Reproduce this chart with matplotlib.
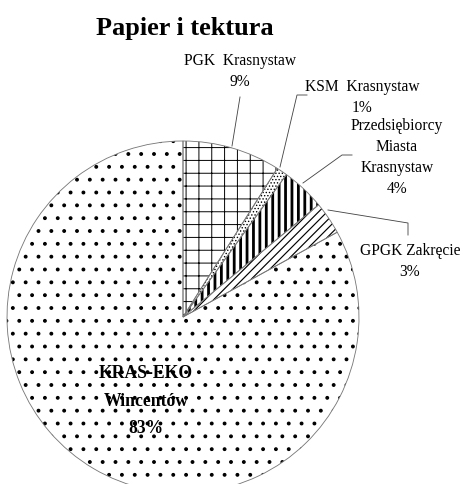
import matplotlib
matplotlib.use("Agg")
import matplotlib.pyplot as plt

# ---- data ----
categories = ["PGK  Krasnystaw", "KSM  Krasnystaw", "Przedsiębiorcy\nMiasta\nKrasnystaw",
              "GPGK Zakręcie", "KRAS-EKO\nWincentów"]
values = [9, 1, 4, 3, 83]
pct_labels = ["9%", "1%", "4%", "3%", "83%"]
title = "Papier i tektura"

# ---- styling ----
W, H, DPI = 463, 484, 77
hatches = ["+", "....", "||", "///", "."]
plt.rcParams["font.family"] = ["Liberation Serif", "DejaVu Serif"]
plt.rcParams["hatch.linewidth"] = 0.9

fig = plt.figure(figsize=(W / DPI, H / DPI), dpi=DPI)
ax = fig.add_axes([0, 0, 1, 1])

def P(x, y):
    return (x, H - y)

cx, cy = P(183, 317)
R = 176

wedges, _ = ax.pie(values, startangle=90, counterclock=False, center=(cx, cy), radius=R,
                   hatch=hatches, colors=["white"] * len(values),
                   wedgeprops=dict(edgecolor="black", linewidth=0))
lw_map = [0.9, 0.8, 2.6, 1.1, 1.2]
for w, lw in zip(wedges, lw_map):
    try:
        w.set_hatch_linewidth(lw)
    except AttributeError:
        pass
# outlines
ax.pie(values, startangle=90, counterclock=False, center=(cx, cy), radius=R,
       colors=["none"] * len(values),
       wedgeprops=dict(edgecolor="#777777", linewidth=0.8, fill=False))

ax.set_xlim(0, W)
ax.set_ylim(0, H)
ax.set_aspect("auto")
ax.axis("off")

# title
ax.text(*P(185, 35), title, ha="center", va="baseline", fontsize=24.5, fontweight="bold")

fs = 14.5
ls = 1.42
# labels (anchored on the baseline of the last line)
ax.text(*P(240, 86), categories[0] + "\n" + pct_labels[0], ha="center", va="baseline",
        fontsize=fs, linespacing=ls)
ax.text(*P(362, 112), categories[1] + "\n" + pct_labels[1], ha="center", va="baseline",
        fontsize=fs, linespacing=ls)
ax.text(*P(397, 193), categories[2] + "\n" + pct_labels[2], ha="center", va="baseline",
        fontsize=fs, linespacing=ls)
ax.text(*P(410, 276), categories[3] + "\n" + pct_labels[3], ha="center", va="baseline",
        fontsize=fs, linespacing=ls)
ax.text(*P(146, 433), categories[4] + "\n" + pct_labels[4], ha="center", va="baseline",
        fontsize=16.5, fontweight="bold", linespacing=1.8)

# leader lines
lc = "#444444"
leaders = [
    [(240, 97), (232, 146)],
    [(307, 95), (297, 95), (280, 167)],
    [(352, 155), (342, 155), (303, 183)],
    [(328, 210), (408, 223), (408, 235)],
]
for pts in leaders:
    xs = [p[0] for p in pts]
    ys = [H - p[1] for p in pts]
    ax.plot(xs, ys, color=lc, linewidth=0.8)

fig.savefig("out.png", dpi=DPI)
